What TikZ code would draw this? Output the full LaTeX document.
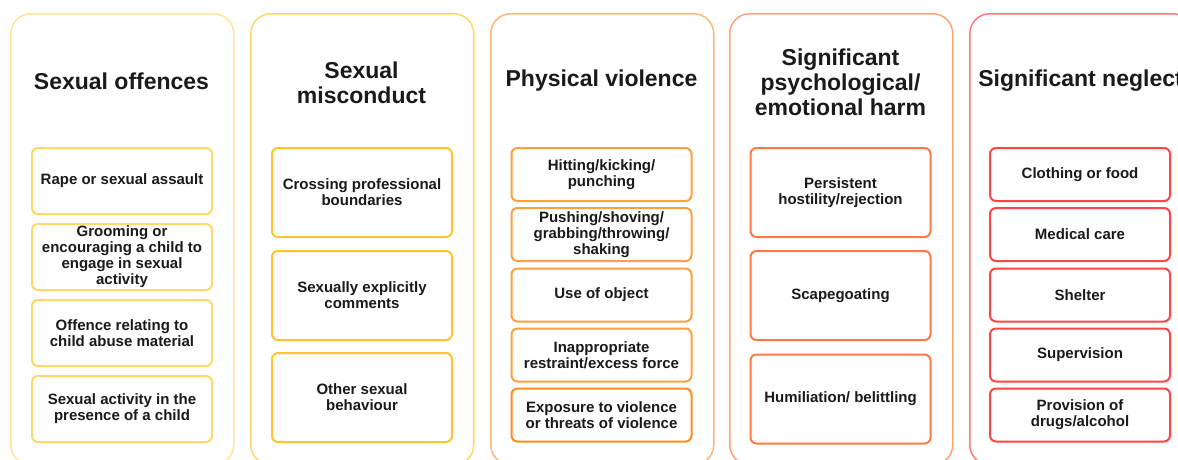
\documentclass[tikz,border=0pt]{standalone}
\usepackage{fontspec}
\setmainfont{Liberation Sans}
\definecolor{cao}{HTML}{FFE699}
\definecolor{cai}{HTML}{FFD966}
\definecolor{cbo}{HTML}{FFD966}
\definecolor{cbi}{HTML}{FFC42E}
\definecolor{cco}{HTML}{FFB77A}
\definecolor{cci}{HTML}{FFA040}
\definecolor{ccx}{HTML}{FF8C1A}
\definecolor{cdo}{HTML}{FFA47A}
\definecolor{cdi}{HTML}{FF7A45}
\definecolor{ceo}{HTML}{FF7A7A}
\definecolor{cei}{HTML}{FF4545}
\definecolor{txt}{HTML}{1A1A1A}
\begin{document}
\begin{tikzpicture}[x=1pt,y=-1pt,
  panel/.style={draw=#1, line width=1.5pt, rounded corners=20pt, minimum width=223pt, minimum height=451pt, anchor=north west, inner sep=0pt},
  item/.style={draw=#1, line width=2pt, rounded corners=6pt, minimum width=180pt, align=center, text=txt,
    font=\bfseries\fontsize{15}{16}\selectfont, inner xsep=2pt, inner ysep=1pt},
  ttl/.style={align=center, text=txt, font=\bfseries\fontsize{23}{25}\selectfont}]
\useasboundingbox (0,0) rectangle (1178,459);
\fill[white] (0,0) rectangle (1178,459);
\clip (0,0) rectangle (1178,459);
% panels
\node[panel=cao] (p1) at (10,13) {};
\node[panel=cbo] (p2) at (250,13) {};
\node[panel=cco] (p3) at (490,13) {};
\node[panel=cdo] (p4) at (729,13) {};
\node[panel=ceo] (p5) at (969,13) {};
% titles
\node[ttl] (t1) at (121.5,81) {Sexual offences};
\node[ttl] (t2) at (361.5,83) {Sexual\\misconduct};
\node[ttl] (t3) at (601.5,81) {Physical violence};
\node[ttl] (t4) at (840.5,82) {Significant\\psychological/\\emotional harm};
\node[ttl] (t5) at (1080.5,81) {Significant neglect};
% panel 1
\node[item=cai, minimum height=66pt] (a1) at (122,181) {Rape or sexual assault};
\node[item=cai, minimum height=66pt] (a2) at (122,257) {Grooming or\\encouraging a child to\\engage in sexual\\activity};
\node[item=cai, minimum height=66pt] (a3) at (122,333) {Offence relating to\\child abuse material};
\node[item=cai, minimum height=66pt] (a4) at (122,409) {Sexual activity in the\\presence of a child};
% panel 2
\node[item=cbi, minimum height=89pt] (b1) at (362,192.5) {Crossing professional\\boundaries};
\node[item=cbi, minimum height=89pt] (b2) at (362,295.5) {Sexually explicitly\\comments};
\node[item=cbi, minimum height=89pt] (b3) at (362,397.5) {Other sexual\\behaviour};
% panel 3
\node[item=cci, minimum height=53pt] (c1) at (601.5,174.5) {Hitting/kicking/\\punching};
\node[item=cci, minimum height=53pt] (c2) at (601.5,234.5) {Pushing/shoving/\\grabbing/throwing/\\shaking};
\node[item=cci, minimum height=53pt] (c3) at (601.5,295) {Use of object};
\node[item=cci, minimum height=53pt] (c4) at (601.5,355) {Inappropriate\\restraint/excess force};
\node[item=ccx, minimum height=53pt] (c5) at (601.5,415) {Exposure to violence\\or threats of violence};
% panel 4
\node[item=cdi, minimum height=89pt] (d1) at (840.5,192.5) {Persistent\\hostility/rejection};
\node[item=cdi, minimum height=89pt] (d2) at (840.5,295.5) {Scapegoating};
\node[item=cdi, minimum height=89pt] (d3) at (840.5,399) {Humiliation/ belittling};
% panel 5
\node[item=cei, minimum height=53pt] (e1) at (1080,174.5) {Clothing or food};
\node[item=cei, minimum height=53pt] (e2) at (1080,234.5) {Medical care};
\node[item=cei, minimum height=53pt] (e3) at (1080,295) {Shelter};
\node[item=cei, minimum height=53pt] (e4) at (1080,355) {Supervision};
\node[item=cei, minimum height=53pt] (e5) at (1080,415) {Provision of\\drugs/alcohol};
\end{tikzpicture}
\end{document}
